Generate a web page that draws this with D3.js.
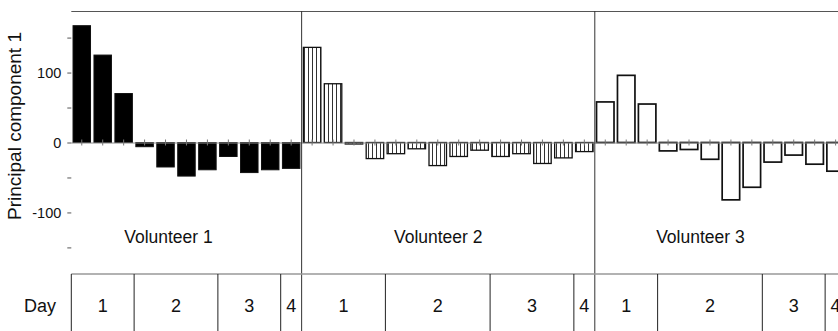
<!DOCTYPE html>
<html>
<head>
<meta charset="utf-8">
<script src="https://cdn.jsdelivr.net/npm/d3@7"></script>
<style>
  html, body { margin: 0; padding: 0; background: #fff; }
  svg { display: block; font-family: "Liberation Sans", Arial, sans-serif; }
</style>
</head>
<body>
<svg id="chart" width="838" height="331"></svg>
<script>
// Principal component 1 scores, one bar per sample, per volunteer
const volunteers = ["Volunteer 1", "Volunteer 2", "Volunteer 3"];
const pc1V1 = [167, 125, 70, -6, -35, -48, -39, -20, -43, -39, -37];
const pc1V2 = [136, 84, -2, -23, -16, -9, -33, -20, -11, -20, -16, -30, -22, -13];
const pc1V3 = [58, 96, 55, -12, -10, -24, -82, -64, -28, -18, -31, -41];

// number of samples taken on each day (days 1-4)
const dayLabels = ["1", "2", "3", "4"];
const samplesPerDayV1 = [3, 4, 3, 1];
const samplesPerDayV2 = [4, 5, 4, 1];
const samplesPerDayV3 = [3, 5, 3, 1];

const yTickValues = [-150, -100, -50, 0, 50, 100, 150];
const yTickLabels = ["", "-100", "", "0", "", "100", ""];
const yAxisTitle = "Principal component 1";
const dayRowTitle = "Day";

const seriesValues = [pc1V1, pc1V2, pc1V3];
const seriesDays = [samplesPerDayV1, samplesPerDayV2, samplesPerDayV3];

// flatten into one run of bars
const bars = [];
seriesValues.forEach((vals, g) => vals.forEach((v, k) => bars.push({ g, k, v, i: bars.length })));

const svg = d3.select("#chart");
const W = 838, H = 331;
const plotTop = 11, plotBottom = 274, tableBottom = H;

const x = d3.scaleBand()
  .domain(d3.range(bars.length))
  .range([71.3, 71.3 + bars.length * 20.94])
  .paddingInner(0.165)
  .paddingOuter(0.0825);

const y = d3.scaleLinear().domain([-188, 188]).range([plotBottom, plotTop]);

const gap = (x.step() - x.bandwidth()) / 2;
const edge = i => x(i) - gap;            // boundary before bar i
const xLeft = edge(0);

// hatch for volunteer 2
const defs = svg.append("defs");
const hatch = defs.append("pattern")
  .attr("id", "vhatch")
  .attr("patternUnits", "userSpaceOnUse")
  .attr("width", 4).attr("height", 10);
hatch.append("rect").attr("width", 4).attr("height", 10).attr("fill", "#fff");
hatch.append("line").attr("x1", 0.5).attr("x2", 0.5).attr("y1", 0).attr("y2", 10)
  .attr("stroke", "#333").attr("stroke-width", 1);

// top frame line
svg.append("line")
  .attr("x1", xLeft).attr("x2", W + 20)
  .attr("y1", plotTop + 0.5).attr("y2", plotTop + 0.5)
  .attr("stroke", "#555").attr("stroke-width", 1);

// y axis (ticks and labels only)
const yAxis = d3.axisLeft(y)
  .tickValues(yTickValues)
  .tickFormat((d, i) => yTickLabels[i])
  .tickSize(4)
  .tickPadding(6);
const gy = svg.append("g").attr("transform", `translate(${xLeft},0)`).call(yAxis);
gy.select(".domain").remove();
gy.selectAll(".tick line").attr("stroke", "#555");
gy.selectAll(".tick text")
  .attr("font-family", "'Liberation Sans', Arial, sans-serif")
  .attr("font-size", 14.5).attr("fill", "#111");

// y axis title
svg.append("text")
  .attr("transform", `translate(21,126) rotate(-90)`)
  .attr("text-anchor", "middle")
  .attr("font-size", 19)
  .attr("fill", "#111")
  .text(yAxisTitle);

// bars
const fills = ["#000", "url(#vhatch)", "#fff"];
const strokes = [1, 1.3, 1.7];
svg.append("g").selectAll("rect").data(bars).join("rect")
  .attr("x", d => x(d.i))
  .attr("width", x.bandwidth())
  .attr("y", d => y(Math.max(0, d.v)))
  .attr("height", d => Math.max(1.5, Math.abs(y(d.v) - y(0))))
  .attr("fill", d => fills[d.g])
  .attr("stroke", "#111")
  .attr("stroke-width", d => strokes[d.g]);

// zero line with a tick at each sample, crossing the line
const xAxisDown = d3.axisBottom(x).tickSize(3).tickSizeOuter(0).tickFormat("");
const xAxisUp = d3.axisTop(x).tickSize(3).tickSizeOuter(0).tickFormat("");
const gx1 = svg.append("g").attr("transform", `translate(0,${y(0)})`).call(xAxisDown);
const gx2 = svg.append("g").attr("transform", `translate(0,${y(0)})`).call(xAxisUp);
gx2.select(".domain").remove();
gx1.select(".domain").attr("stroke", "#888").attr("d", `M${xLeft},0.5H${W + 20}`);
gx1.selectAll(".tick line").attr("stroke", "#777");
gx2.selectAll(".tick line").attr("stroke", "#777");

// volunteer separators and labels
let start = 0;
const labelShift = [-18, -10, -20];
const groupEdges = [];
seriesValues.forEach((vals) => {
  groupEdges.push([start, start + vals.length]);
  start += vals.length;
});
groupEdges.forEach(([s, e], g) => {
  if (g > 0) {
    svg.append("line")
      .attr("x1", edge(s)).attr("x2", edge(s))
      .attr("y1", plotTop).attr("y2", tableBottom)
      .attr("stroke", "#333").attr("stroke-width", 1);
  }
  const x0 = edge(s), x1 = edge(e - 1) + x.step();
  svg.append("text")
    .attr("x", (x0 + x1) / 2 + labelShift[g])
    .attr("y", 243)
    .attr("text-anchor", "middle")
    .attr("font-size", 17.5)
    .attr("fill", "#111")
    .text(volunteers[g]);
});

// day table
svg.append("line")
  .attr("x1", xLeft).attr("x2", W + 20)
  .attr("y1", plotBottom).attr("y2", plotBottom)
  .attr("stroke", "#999").attr("stroke-width", 1.5);
svg.append("line")
  .attr("x1", xLeft).attr("x2", xLeft)
  .attr("y1", plotBottom).attr("y2", tableBottom)
  .attr("stroke", "#222").attr("stroke-width", 1);
svg.append("text")
  .attr("x", 40).attr("y", 312)
  .attr("text-anchor", "middle")
  .attr("font-size", 18)
  .attr("fill", "#111")
  .text(dayRowTitle);

groupEdges.forEach(([s], g) => {
  let pos = s;
  seriesDays[g].forEach((n, d) => {
    const a = edge(pos), b = edge(pos + n - 1) + x.step();
    if (d < seriesDays[g].length - 1) {
      svg.append("line")
        .attr("x1", b).attr("x2", b)
        .attr("y1", plotBottom).attr("y2", tableBottom)
        .attr("stroke", "#222").attr("stroke-width", 1);
    }
    svg.append("text")
      .attr("x", (a + b) / 2).attr("y", 312)
      .attr("text-anchor", "middle")
      .attr("font-size", 18)
      .attr("fill", "#111")
      .text(dayLabels[d]);
    pos += n;
  });
});
</script>
</body>
</html>
